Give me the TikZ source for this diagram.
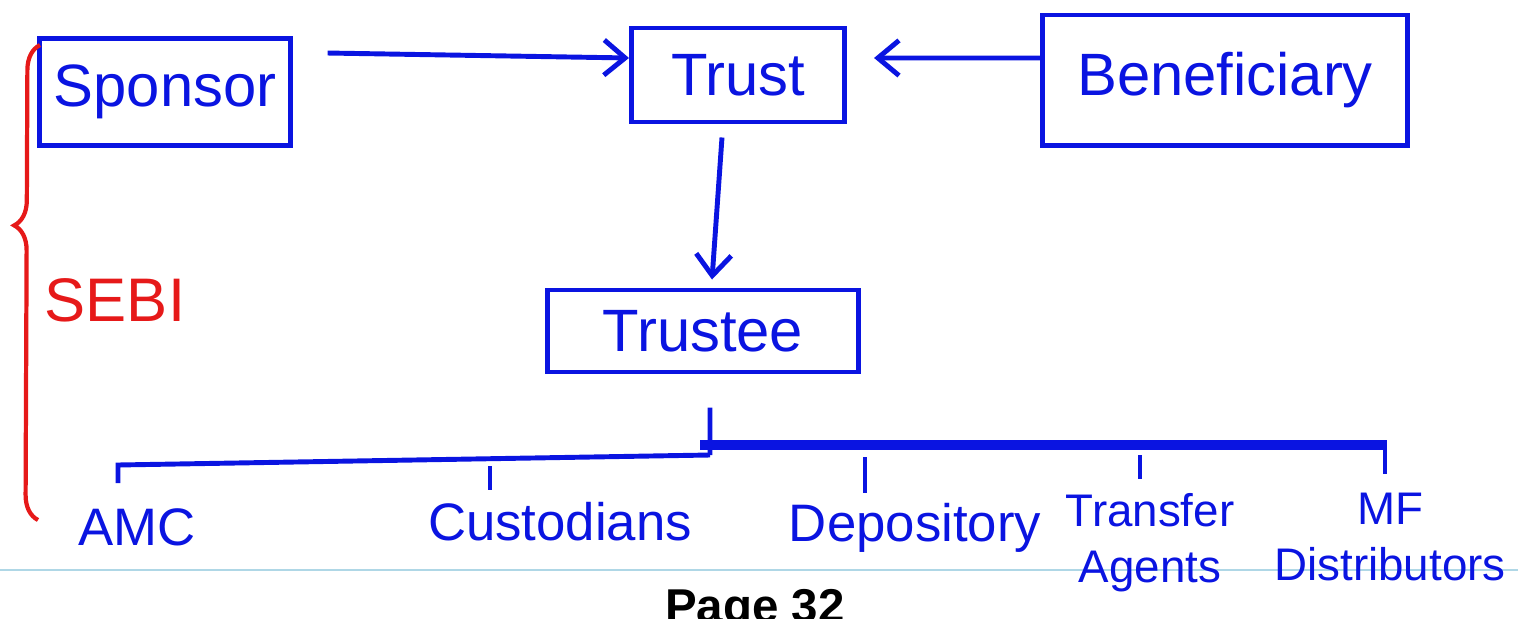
\documentclass[tikz,border=0pt]{standalone}
\usepackage{fontspec}
\setmainfont{Liberation Sans}
\usetikzlibrary{arrows.meta,decorations.pathreplacing}
\definecolor{ink}{RGB}{10,20,225}
\definecolor{redink}{RGB}{230,25,25}
\definecolor{pageline}{RGB}{175,215,230}
\begin{document}
\begin{tikzpicture}[x=0.01cm,y=-0.01cm,
    box/.style={draw=ink, line width=1.4pt, text=ink, font=\fontsize{17}{20}\selectfont},
    leaf/.style={text=ink, inner sep=0pt, font=\fontsize{15}{17}\selectfont},
    leaftwo/.style={leaf, align=center, font=\fontsize{13}{16}\selectfont},
    wire/.style={draw=ink, line width=1.4pt},
    link/.style={wire, -{Straight Barb[length=6pt,width=10pt]}}]
\useasboundingbox (0,0) rectangle (1518,618);

% page separator and page number
\draw[pageline, line width=0.6pt] (0,570) -- (1518,570);
\node[anchor=base, font=\bfseries\fontsize{13.5}{15}\selectfont] (page) at (755,622) {Page 32};

% top row
\node[box, minimum width=2.5cm, minimum height=1.07cm] (sponsor) at (165,92) {Sponsor};
\node[box, minimum width=2.13cm, minimum height=0.94cm] (trust) at (738,75) {Trust};
\node[box, minimum width=3.65cm, minimum height=1.30cm] (benef) at (1225,80) {Beneficiary};
\node[box, minimum width=3.1cm, minimum height=0.82cm] (trustee) at (703,331) {Trustee};

\draw[link] ([xshift=0.35cm,yshift=-0.17cm]sponsor.north east) -- ([yshift=0.17cm]trust.west);
\draw[link] ([yshift=0.22cm]benef.west) -- ([xshift=0.27cm,yshift=0.17cm]trust.east);
\draw[link] ([xshift=-0.16cm,yshift=-0.13cm]trust.south) -- ([xshift=0.09cm,yshift=0.08cm]trustee.north);

% SEBI
\node[text=redink, font=\fontsize{17.5}{20}\selectfont] (sebi) at (115,300) {SEBI};
\draw[redink, line width=1.2pt, decorate, decoration={brace, amplitude=0.25cm, aspect=0.62}]
    (38,520) -- (40,45);

% leaves
\node[leaf] (amc) at (137,527) {AMC};
\node[leaf] (cust) at (560,522) {Custodians};
\node[leaf] (depo) at (915,528) {Depository};
\node[leaftwo] (rta) at (1150,543) {Transfer\\Agents};
\node[leaftwo] (mfd) at (1390,537) {MF\\Distributors};

\coordinate (split) at (710,455);
\coordinate (amctop) at (118,465);
\coordinate (custtop) at (490,466);
\coordinate (busL) at (700,445);
\coordinate (busR) at (1385,445);
\coordinate (depotop) at (865,457);
\coordinate (rtatop) at (1140,455);

\draw[wire] ([xshift=0.07cm,yshift=-0.33cm]trustee.south) -- (split);
\draw[wire] (split) -- (amctop) -- ++(0,18);
\draw[wire] (custtop) -- ++(0,24);
\draw[ink, line width=3pt] (busL) -- (busR);
\draw[wire] (depotop) -- ++(0,36);
\draw[wire] (rtatop) -- ++(0,24);
\draw[wire] ([yshift=0.05cm]busR) -- ++(0,34);
\end{tikzpicture}
\end{document}
